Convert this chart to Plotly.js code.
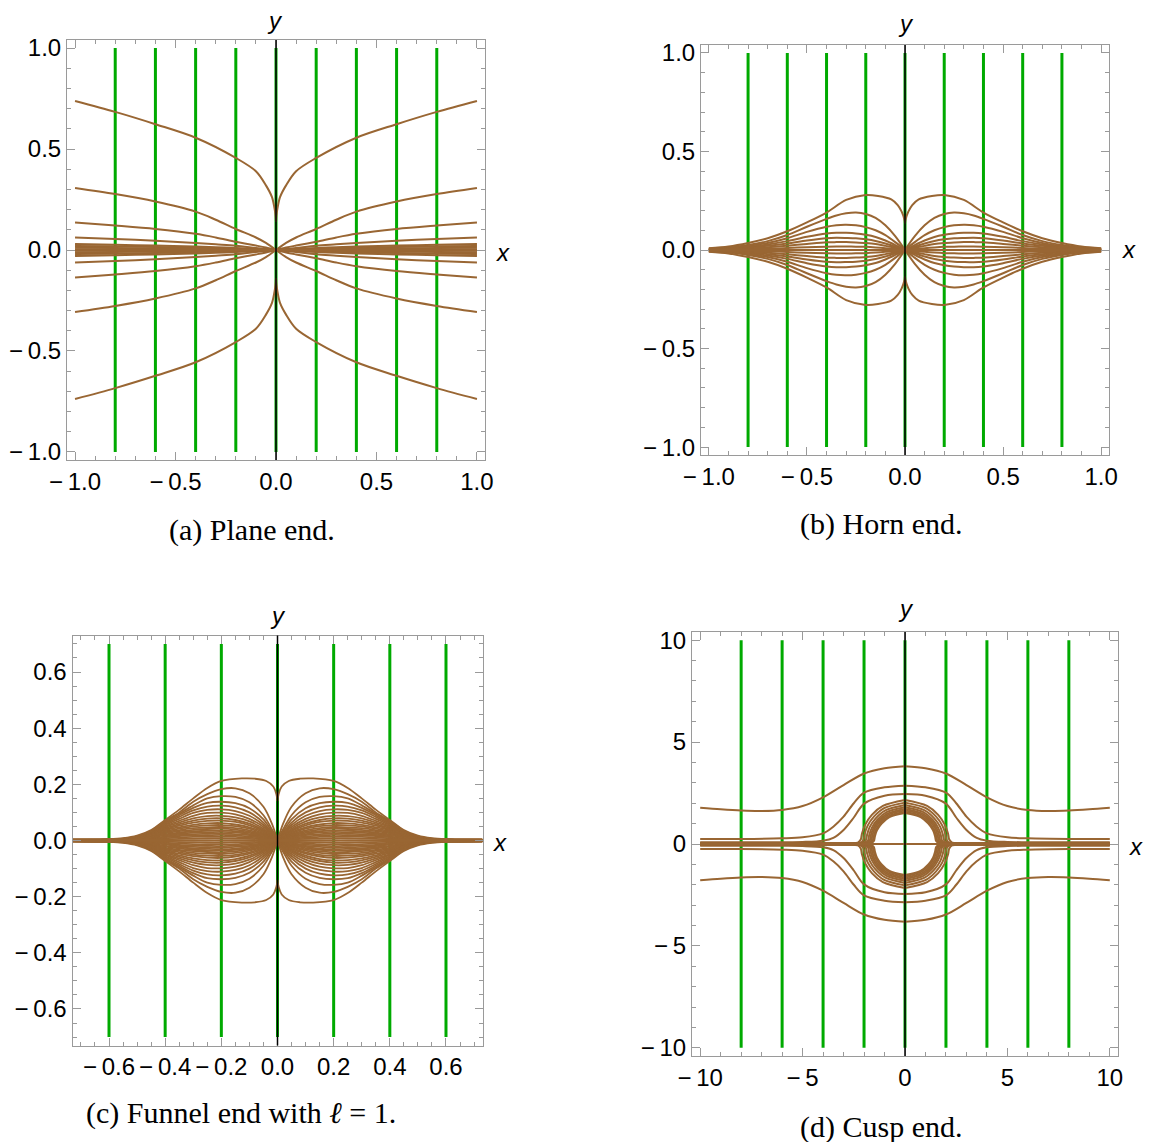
<!DOCTYPE html>
<html><head><meta charset="utf-8">
<script src="https://cdn.plot.ly/plotly-3.0.1.min.js"></script>
<style>html,body{margin:0;padding:0;background:#fff}#chart{width:1149px;height:1142px}</style>
</head><body><div id="chart"></div>
<script>
// ================= DATA (upper-right quadrant of each symmetric plot) =================
// ---- (a) Plane end ----
const A_GREEN_X = [-0.8, -0.6, -0.4, -0.2, 0, 0.2, 0.4, 0.6, 0.8];
const A_GREEN_Y = [-1, 1];
const A_TIP_X = [0, 0.002, 0.008, 0.02, 0.05, 0.1, 0.2, 0.4, 0.6, 0.8, 1.0];
const A_TIP_Y = [0.14, 0.17, 0.21, 0.262, 0.32, 0.39, 0.456, 0.556, 0.623, 0.684, 0.738];
const A_FAN_X = [0, 0.05, 0.1, 0.2, 0.3, 0.4, 0.6, 0.8, 1.0];
const A_FAN_2 = [0, 0.035, 0.062, 0.104, 0.15, 0.19, 0.24, 0.277, 0.307];
const A_FAN_3 = [0, 0.012, 0.022, 0.041, 0.062, 0.08, 0.104, 0.121, 0.136];
const A_FAN_4 = [0, 0.005, 0.01, 0.021, 0.028, 0.035, 0.046, 0.055, 0.062];
const A_FAN_5 = [0, 0.003, 0.005, 0.01, 0.014, 0.017, 0.022, 0.026, 0.03];
const A_FAN_6 = [0, 0.002, 0.004, 0.007, 0.01, 0.012, 0.015, 0.018, 0.02];
const A_FAN_7 = [0, 0.001, 0.002, 0.004, 0.005, 0.006, 0.008, 0.01, 0.011];
const A_FAN_8 = [0, 0, 0.001, 0.001, 0.002, 0.002, 0.003, 0.003, 0.004];
const A_FAN_9 = [0, 0, 0, 0, 0, 0, 0, 0, 0];
const A_FANS = [A_FAN_2, A_FAN_3, A_FAN_4, A_FAN_5, A_FAN_6, A_FAN_7, A_FAN_8, A_FAN_9];

// ---- (b) Horn end ----
const B_GREEN_X = [-0.8, -0.6, -0.4, -0.2, 0, 0.2, 0.4, 0.6, 0.8];
const B_GREEN_Y = [-1, 1];
const B_TIP_X = [0, 0.003, 0.017, 0.037, 0.07, 0.137, 0.2, 0.3, 0.4, 0.5, 0.6, 0.7, 0.8, 0.9, 1.0];
const B_TIP_Y = [0.135, 0.155, 0.195, 0.228, 0.257, 0.274, 0.279, 0.254, 0.19, 0.14, 0.095, 0.06, 0.036, 0.018, 0.009];
const B_FAN_X = [0, 0.05, 0.1, 0.15, 0.2, 0.25, 0.3, 0.35, 0.4, 0.5, 0.6, 0.7, 0.8, 0.9, 1.0];
const B_FAN_2 = [0, 0.07, 0.125, 0.163, 0.183, 0.19, 0.186, 0.175, 0.158, 0.118, 0.076, 0.045, 0.025, 0.012, 0.007];
const B_FAN_3 = [0, 0.04, 0.075, 0.1, 0.116, 0.125, 0.128, 0.126, 0.118, 0.092, 0.06, 0.036, 0.02, 0.01, 0.005];
const B_FAN_4 = [0, 0.025, 0.048, 0.066, 0.077, 0.084, 0.087, 0.088, 0.084, 0.067, 0.045, 0.028, 0.016, 0.008, 0.004];
const B_FAN_5 = [0, 0.017, 0.033, 0.046, 0.054, 0.059, 0.061, 0.062, 0.06, 0.048, 0.033, 0.021, 0.012, 0.006, 0.003];
const B_FAN_6 = [0, 0.011, 0.021, 0.03, 0.035, 0.038, 0.04, 0.04, 0.039, 0.031, 0.022, 0.014, 0.008, 0.004, 0.002];
const B_FAN_7 = [0, 0.005, 0.009, 0.013, 0.016, 0.017, 0.018, 0.018, 0.017, 0.014, 0.01, 0.006, 0.004, 0.002, 0.001];
const B_FAN_8 = [0, 0, 0, 0, 0, 0, 0, 0, 0, 0, 0, 0, 0, 0, 0];
const B_FANS = [B_FAN_2, B_FAN_3, B_FAN_4, B_FAN_5, B_FAN_6, B_FAN_7, B_FAN_8];

// ---- (c) Funnel end with l = 1 ----
const C_GREEN_X = [-0.6, -0.4, -0.2, 0, 0.2, 0.4, 0.6];
const C_GREEN_Y = [-0.7, 0.7];
const C_TIP_X = [0, 0.004, 0.015, 0.04, 0.08, 0.127, 0.2, 0.25, 0.3, 0.35, 0.4, 0.45, 0.5, 0.55, 0.6, 0.73];
const C_TIP_Y = [0.14, 0.165, 0.192, 0.212, 0.22, 0.221, 0.212, 0.187, 0.15, 0.11, 0.073, 0.037, 0.017, 0.008, 0.005, 0.004];
const C_FAN_X = [0, 0.02, 0.05, 0.1, 0.15, 0.2, 0.25, 0.3, 0.35, 0.4, 0.45, 0.5, 0.55, 0.6, 0.73];
const C_FAN_2  = [0, 0.06, 0.12, 0.168, 0.186, 0.183, 0.165, 0.138, 0.1, 0.069, 0.035, 0.015, 0.007, 0.005, 0.004];
const C_FAN_3  = [0, 0.04, 0.09, 0.136, 0.155, 0.158, 0.15, 0.125, 0.095, 0.066, 0.034, 0.014, 0.006, 0.004, 0.003];
const C_FAN_4  = [0, 0.032, 0.075, 0.115, 0.133, 0.138, 0.134, 0.116, 0.09, 0.062, 0.032, 0.013, 0.006, 0.004, 0.003];
const C_FAN_5  = [0, 0.027, 0.064, 0.1, 0.118, 0.124, 0.121, 0.107, 0.084, 0.058, 0.03, 0.012, 0.005, 0.003, 0.002];
const C_FAN_6  = [0, 0.023, 0.055, 0.088, 0.105, 0.111, 0.109, 0.098, 0.077, 0.055, 0.028, 0.011, 0.005, 0.003, 0.002];
const C_FAN_7  = [0, 0.02, 0.048, 0.077, 0.093, 0.099, 0.098, 0.088, 0.07, 0.051, 0.026, 0.01, 0.004, 0.003, 0.002];
const C_FAN_8  = [0, 0.017, 0.042, 0.068, 0.082, 0.088, 0.087, 0.079, 0.064, 0.048, 0.025, 0.01, 0.004, 0.002, 0.002];
const C_FAN_9  = [0, 0.015, 0.037, 0.06, 0.073, 0.079, 0.078, 0.071, 0.058, 0.044, 0.023, 0.009, 0.004, 0.002, 0.001];
const C_FAN_10 = [0, 0.013, 0.033, 0.054, 0.066, 0.071, 0.07, 0.064, 0.053, 0.04, 0.021, 0.008, 0.003, 0.002, 0.001];
const C_FAN_11 = [0, 0.011, 0.029, 0.047, 0.057, 0.062, 0.061, 0.056, 0.047, 0.037, 0.019, 0.008, 0.003, 0.002, 0.001];
const C_FAN_12 = [0, 0.01, 0.025, 0.042, 0.051, 0.055, 0.054, 0.05, 0.042, 0.033, 0.017, 0.007, 0.003, 0.001, 0.001];
const C_FAN_13 = [0, 0.009, 0.022, 0.036, 0.044, 0.048, 0.047, 0.044, 0.037, 0.03, 0.016, 0.006, 0.002, 0.001, 0.001];
const C_FAN_14 = [0, 0.008, 0.019, 0.032, 0.039, 0.042, 0.041, 0.038, 0.033, 0.026, 0.014, 0.005, 0.002, 0.001, 0];
const C_FAN_15 = [0, 0.007, 0.016, 0.027, 0.033, 0.036, 0.035, 0.033, 0.028, 0.022, 0.012, 0.005, 0.002, 0.001, 0];
const C_FAN_16 = [0, 0.006, 0.014, 0.023, 0.029, 0.031, 0.03, 0.028, 0.024, 0.019, 0.01, 0.004, 0.002, 0.001, 0];
const C_FAN_17 = [0, 0.005, 0.011, 0.019, 0.023, 0.025, 0.024, 0.023, 0.02, 0.015, 0.008, 0.003, 0.001, 0, 0];
const C_FAN_18 = [0, 0.004, 0.009, 0.015, 0.018, 0.02, 0.019, 0.018, 0.016, 0.012, 0.006, 0.003, 0.001, 0, 0];
const C_FAN_19 = [0, 0.003, 0.006, 0.01, 0.013, 0.014, 0.014, 0.013, 0.011, 0.008, 0.004, 0.002, 0.001, 0, 0];
const C_FAN_20 = [0, 0.002, 0.004, 0.006, 0.007, 0.008, 0.008, 0.007, 0.006, 0.004, 0.002, 0.001, 0, 0, 0];
const C_FAN_21 = [0, 0, 0, 0, 0, 0, 0, 0, 0, 0, 0, 0, 0, 0, 0];
const C_FANS = [C_FAN_2, C_FAN_3, C_FAN_4, C_FAN_5, C_FAN_6, C_FAN_7, C_FAN_8, C_FAN_9, C_FAN_10,
  C_FAN_11, C_FAN_12, C_FAN_13, C_FAN_14, C_FAN_15, C_FAN_16, C_FAN_17, C_FAN_18, C_FAN_19, C_FAN_20, C_FAN_21];

// ---- (d) Cusp end ----
const D_GREEN_X = [-8, -6, -4, -2, 0, 2, 4, 6, 8];
const D_GREEN_Y = [-10, 10];
const D_OUT_X = [0, 1, 2, 3, 4, 5, 6, 7, 8, 9, 10];
const D_OUT_1 = [3.82, 3.72, 3.46, 2.89, 2.29, 1.86, 1.67, 1.62, 1.64, 1.7, 1.78];
const D_MID_X = [0, 1, 2, 2.5, 3, 3.5, 4, 5, 6, 8, 10];
const D_MID_2 = [2.86, 2.78, 2.52, 2.0, 1.34, 0.85, 0.52, 0.33, 0.28, 0.25, 0.25];
const D_MID_3 = [2.45, 2.37, 1.98, 1.3, 0.69, 0.3, 0.16, 0.1, 0.09, 0.08, 0.08];
const D_RING_1_X = [0, 1.08, 1.62, 1.94, 2.1, 2.16, 2.3, 2.7, 5, 10];
const D_RING_1_Y = [2.16, 1.87, 1.43, 0.95, 0.52, 0.22, 0.07, 0.04, 0.04, 0.04];
const D_RING_2_X = [0, 1.02, 1.52, 1.83, 1.97, 2.03, 2.17, 2.55, 5, 10];
const D_RING_2_Y = [2.03, 1.76, 1.34, 0.89, 0.49, 0.2, 0.06, 0.03, 0.03, 0.03];
const D_RING_3_X = [0, 0.96, 1.43, 1.72, 1.85, 1.91, 2.05, 2.45, 5, 10];
const D_RING_3_Y = [1.91, 1.65, 1.26, 0.84, 0.46, 0.19, 0.06, 0.03, 0.02, 0.02];
const D_RING_4_X = [0, 0.9, 1.35, 1.62, 1.75, 1.8, 1.94, 2.35, 5, 10];
const D_RING_4_Y = [1.8, 1.56, 1.19, 0.79, 0.43, 0.18, 0.05, 0.02, 0.02, 0.02];
const D_RING_5_X = [0, 0.86, 1.29, 1.55, 1.67, 1.72, 1.86, 2.25, 5, 10];
const D_RING_5_Y = [1.72, 1.49, 1.14, 0.76, 0.41, 0.17, 0.05, 0.02, 0.01, 0.01];
const D_RING_6_X = [0, 0.83, 1.24, 1.49, 1.6, 1.65, 1.79, 2.2, 5, 10];
const D_RING_6_Y = [1.65, 1.43, 1.09, 0.73, 0.4, 0.16, 0.05, 0.02, 0.01, 0.01];
const D_RING_7_X = [0, 0.79, 1.19, 1.42, 1.53, 1.58, 1.72, 2.1, 5, 10];
const D_RING_7_Y = [1.58, 1.37, 1.04, 0.7, 0.38, 0.16, 0.04, 0.02, 0.01, 0.01];
const D_RING_8_X = [0, 0.76, 1.14, 1.37, 1.47, 1.52, 1.66, 2.0, 5, 10];
const D_RING_8_Y = [1.52, 1.32, 1.0, 0.67, 0.37, 0.15, 0.04, 0.01, 0, 0];
const D_AXIS_X = [0, 10];
const D_AXIS_Y = [0, 0];

// ---- tick labels ----
const TICKS_AB = [-1, -0.5, 0, 0.5, 1];
const TICKTEXT_AB = ['\u2212\u20091.0', '\u2212\u20090.5', '0.0', '0.5', '1.0'];
const TICKS_C = [-0.6, -0.4, -0.2, 0, 0.2, 0.4, 0.6];
const TICKTEXT_C = ['\u2212\u20090.6', '\u2212\u20090.4', '\u2212\u20090.2', '0.0', '0.2', '0.4', '0.6'];
const TICKS_D = [-10, -5, 0, 5, 10];
const TICKTEXT_D = ['\u2212\u200910', '\u2212\u20095', '0', '5', '10'];

const CAPTIONS = ['(a) Plane end.', '(b) Horn end.', '(c) Funnel end with <i>\u2113</i> = 1.', '(d) Cusp end.'];

// ================= BUILD =================
const W = 1149, H = 1142;
const BROWN = '#996633', GREEN = '#00aa00', FRAME = '#9a9a9a';

function mirror4(xs, ys, acc) {
  const signs = [[1, 1], [1, -1], [-1, 1], [-1, -1]];
  signs.forEach(([sx, sy]) => {
    for (let i = 0; i < xs.length; i++) { acc.x.push(sx * xs[i]); acc.y.push(sy * ys[i]); }
    acc.x.push(null); acc.y.push(null);
  });
}
function greenLines(gx, gy) {
  const o = {x: [], y: []};
  gx.forEach(v => { o.x.push(v, v, null); o.y.push(gy[0], gy[1], null); });
  return o;
}

const brownA = {x: [], y: []};
mirror4(A_TIP_X, A_TIP_Y, brownA);
A_FANS.forEach(f => mirror4(A_FAN_X, f, brownA));
const brownB = {x: [], y: []};
mirror4(B_TIP_X, B_TIP_Y, brownB);
B_FANS.forEach(f => mirror4(B_FAN_X, f, brownB));
const brownC = {x: [], y: []};
mirror4(C_TIP_X, C_TIP_Y, brownC);
C_FANS.forEach(f => mirror4(C_FAN_X, f, brownC));
const brownD = {x: [], y: []};
mirror4(D_OUT_X, D_OUT_1, brownD);
mirror4(D_MID_X, D_MID_2, brownD);
mirror4(D_MID_X, D_MID_3, brownD);
[[D_RING_1_X, D_RING_1_Y], [D_RING_2_X, D_RING_2_Y], [D_RING_3_X, D_RING_3_Y], [D_RING_4_X, D_RING_4_Y],
 [D_RING_5_X, D_RING_5_Y], [D_RING_6_X, D_RING_6_Y], [D_RING_7_X, D_RING_7_Y], [D_RING_8_X, D_RING_8_Y]]
 .forEach(([rx, ry]) => mirror4(rx, ry, brownD));
mirror4(D_AXIS_X, D_AXIS_Y, brownD);

const panels = [
  {green: greenLines(A_GREEN_X, A_GREEN_Y), brown: brownA, box: [67, 40, 485, 460], range: [-1.04, 1.04], yr: [-1.04, 1.04], tv: TICKS_AB, tt: TICKTEXT_AB, minor: 0.1, lw: 2},
  {green: greenLines(B_GREEN_X, B_GREEN_Y), brown: brownB, box: [701, 45, 1109, 455], range: [-1.04, 1.04], yr: [-1.04, 1.04], tv: TICKS_AB, tt: TICKTEXT_AB, minor: 0.1, lw: 2},
  {green: greenLines(C_GREEN_X, C_GREEN_Y), brown: brownC, box: [72.5, 635.5, 482.5, 1045.5], range: [-0.73, 0.73], yr: [-0.73, 0.73], tv: TICKS_C, tt: TICKTEXT_C, minor: 0.05, lw: 1.8},
  {green: greenLines(D_GREEN_X, D_GREEN_Y), brown: brownD, box: [692, 632, 1118, 1056], range: [-10.4, 10.4], yr: [-10.4, 10.4], tv: TICKS_D, tt: TICKTEXT_D, minor: 1, lw: 2}
];

const traces = [];
const layout = {
  width: W, height: H, margin: {l: 0, r: 0, t: 0, b: 0},
  paper_bgcolor: '#fff', plot_bgcolor: '#fff', showlegend: false,
  shapes: [], annotations: []
};

function axis(dom, range, tv, tt, minor, anchor) {
  return {
    domain: dom, range: range, anchor: anchor, tickmode: 'array', tickvals: tv, ticktext: tt,
    ticks: 'inside', ticklen: 8, tickwidth: 1, tickcolor: FRAME,
    showline: true, linecolor: FRAME, linewidth: 1, mirror: 'allticks',
    showgrid: false, zeroline: false, fixedrange: true,
    tickfont: {family: 'Liberation Sans, Arial, sans-serif', size: 24, color: '#000'},
    minor: {tickmode: 'linear', tick0: 0, dtick: minor, ticks: 'inside', ticklen: 4, tickwidth: 1, tickcolor: FRAME, showgrid: false}
  };
}

const labelPos = [
  {x: [503, 252], y: [275, 20], cap: [252, 530]},
  {x: [1129, 250], y: [906, 24], cap: [881, 524]},
  {x: [500, 842], y: [278, 615], cap: [241, 1113]},
  {x: [1136, 846], y: [906, 608], cap: [881, 1127]}
];

panels.forEach((p, i) => {
  const n = i === 0 ? '' : String(i + 1);
  const xa = 'x' + n, ya = 'y' + n;
  const [l, t, r, b] = p.box;
  layout['xaxis' + n] = axis([l / W, r / W], p.range, p.tv, p.tt, p.minor, ya);
  layout['yaxis' + n] = axis([1 - b / H, 1 - t / H], p.yr, p.tv, p.tt, p.minor, xa);
  traces.push({type: 'scatter', mode: 'lines', x: p.green.x, y: p.green.y, xaxis: xa, yaxis: ya,
    line: {color: GREEN, width: 3}, hoverinfo: 'skip'});
  traces.push({type: 'scatter', mode: 'lines', x: p.brown.x, y: p.brown.y, xaxis: xa, yaxis: ya,
    line: {color: BROWN, width: p.lw, shape: 'spline', smoothing: 0.9}, hoverinfo: 'skip'});
  layout.shapes.push({type: 'line', xref: xa, yref: ya + ' domain', x0: 0, x1: 0, y0: 0, y1: 1,
    layer: 'above', line: {color: '#000', width: 1.5}});
  const lp = labelPos[i];
  const axFont = {family: 'Liberation Sans, Arial, sans-serif', size: 24, color: '#000'};
  layout.annotations.push({xref: 'paper', yref: 'paper', x: lp.x[0] / W, y: 1 - lp.x[1] / H, text: '<i>x</i>',
    showarrow: false, xanchor: 'center', yanchor: 'middle', font: axFont});
  layout.annotations.push({xref: 'paper', yref: 'paper', x: lp.y[0] / W, y: 1 - lp.y[1] / H, text: '<i>y</i>',
    showarrow: false, xanchor: 'center', yanchor: 'middle', font: axFont});
  layout.annotations.push({xref: 'paper', yref: 'paper', x: lp.cap[0] / W, y: 1 - lp.cap[1] / H, text: CAPTIONS[i],
    showarrow: false, xanchor: 'center', yanchor: 'middle',
    font: {family: 'Liberation Serif, Times New Roman, serif', size: 30, color: '#000'}});
});

Plotly.newPlot('chart', traces, layout, {displayModeBar: false, staticPlot: true});
</script></body></html>
